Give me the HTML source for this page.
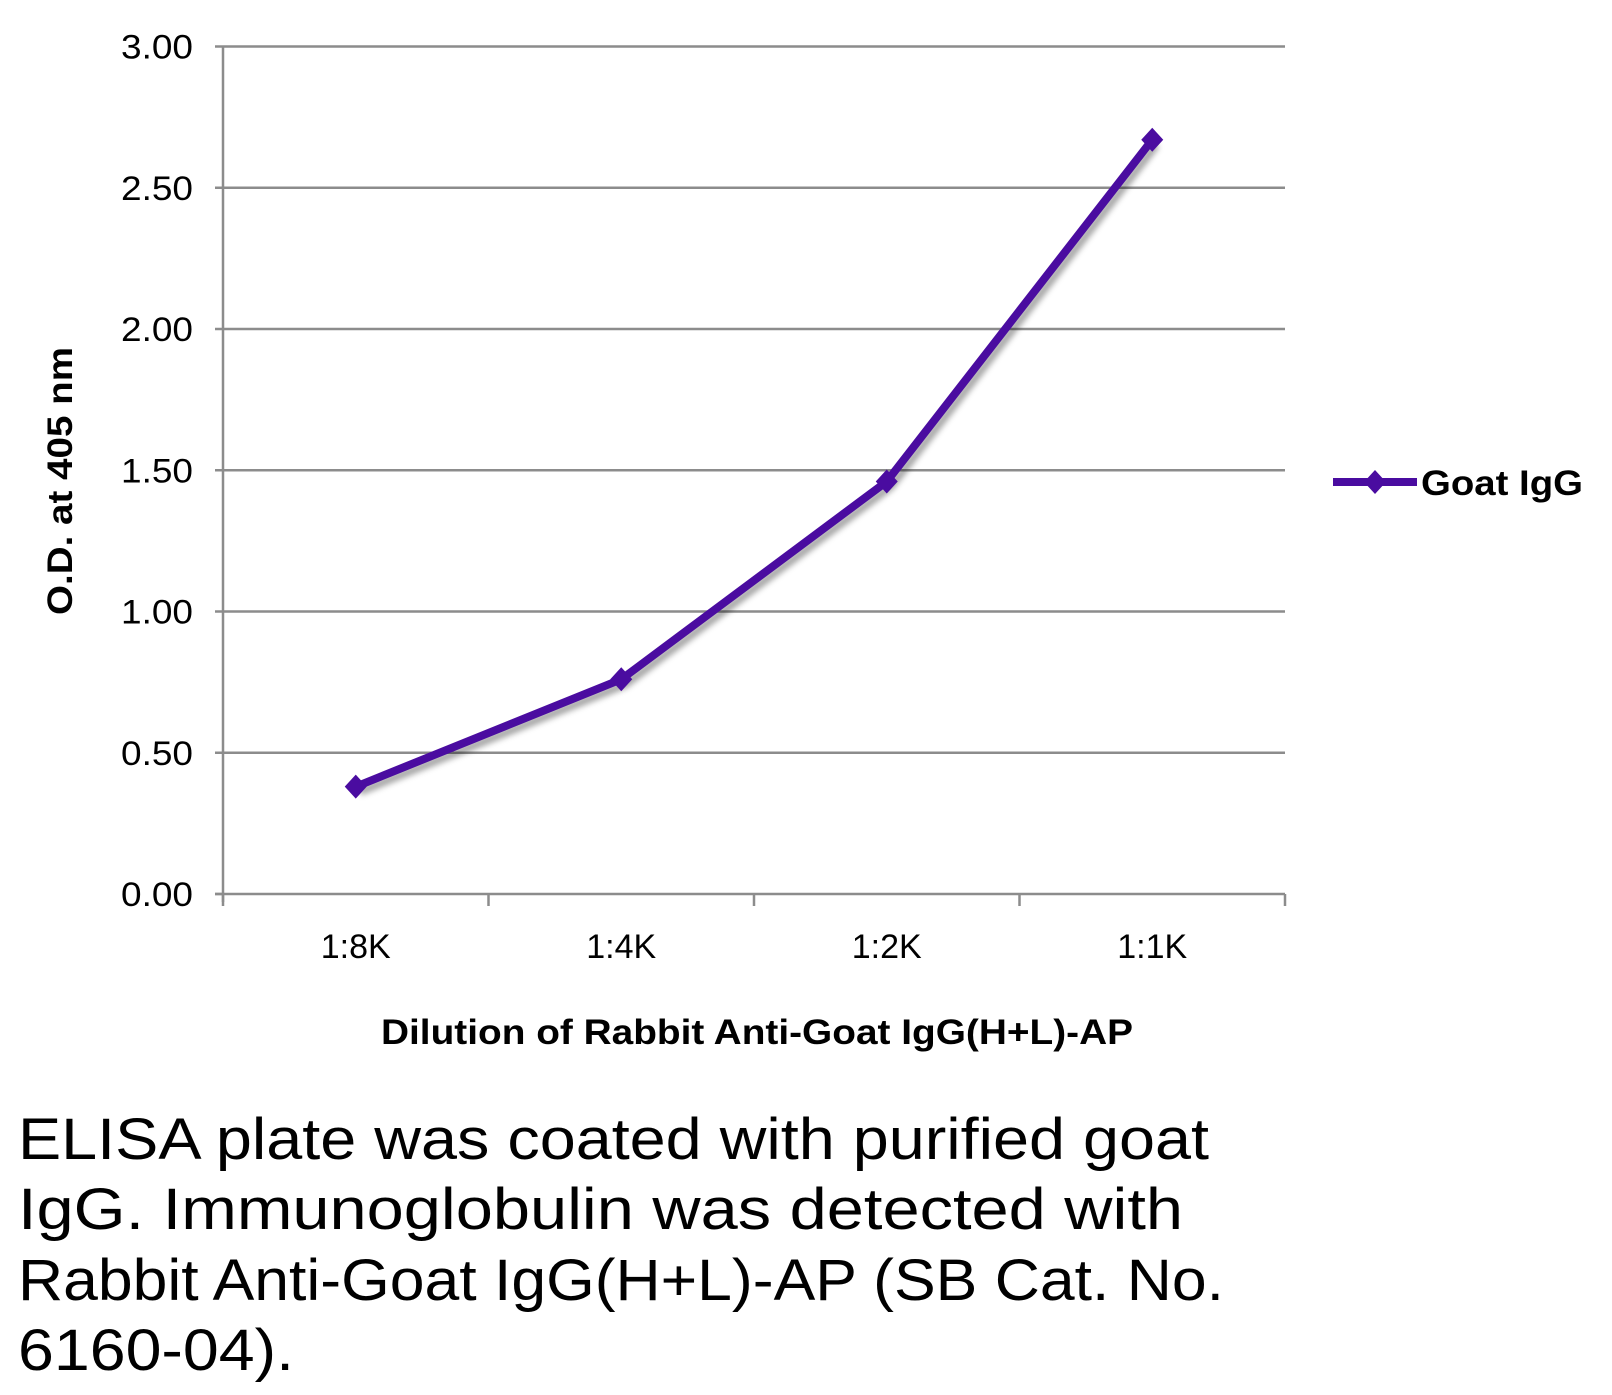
<!DOCTYPE html>
<html><head><meta charset="utf-8"><style>
html,body{margin:0;padding:0;background:#fff;}
svg{display:block;font-family:"Liberation Sans",sans-serif;}
</style></head><body>
<svg id="chart" width="1612" height="1395" viewBox="0 0 1612 1395" xmlns="http://www.w3.org/2000/svg">
<defs><filter id="sh" x="-10%" y="-10%" width="120%" height="120%"><feGaussianBlur stdDeviation="3"/></filter></defs>
<g id="grid"></g>
<g id="axes"></g>
<g id="series"></g>
<text transform="translate(72,481) rotate(-90)" text-anchor="middle" font-size="35" font-weight="bold" textLength="268" lengthAdjust="spacingAndGlyphs">O.D. at 405 nm</text>
<text x="757" y="1044" text-anchor="middle" font-size="35" font-weight="bold" textLength="752" lengthAdjust="spacingAndGlyphs">Dilution of Rabbit Anti-Goat IgG(H+L)-AP</text>
<g>
<line x1="1333" y1="482" x2="1417" y2="482" stroke="#4a0ca0" stroke-width="8"/>
<path d="M1375 470 L1386 482 L1375 494 L1364 482 Z" fill="#4a0ca0"/>
<text x="1421" y="495" font-size="35" font-weight="bold" textLength="162" lengthAdjust="spacingAndGlyphs">Goat IgG</text>
</g>
<g font-size="58" fill="#000">
<text x="18" y="1159" textLength="1191" lengthAdjust="spacingAndGlyphs">ELISA plate was coated with purified goat</text>
<text x="18" y="1229" textLength="1165" lengthAdjust="spacingAndGlyphs">IgG.  Immunoglobulin was detected with</text>
<text x="18" y="1300" textLength="1206" lengthAdjust="spacingAndGlyphs">Rabbit Anti-Goat IgG(H+L)-AP (SB Cat. No.</text>
<text x="18" y="1370" textLength="276" lengthAdjust="spacingAndGlyphs">6160-04).</text>
</g>
</svg>
<script>
const categories = ["1:8K","1:4K","1:2K","1:1K"];
const goatIgG = [0.38, 0.76, 1.46, 2.67];
const yTicks = [0, 0.5, 1.0, 1.5, 2.0, 2.5, 3.0];
const yTickLabels = ["0.00","0.50","1.00","1.50","2.00","2.50","3.00"];

const NS="http://www.w3.org/2000/svg";
const X0=223, X1=1285, Y0=894, Y1=46.5, YMAX=3;
const bw=(X1-X0)/categories.length;
function xPos(i){return X0+bw*(i+0.5);}
function yPos(v){return Y0-(v/YMAX)*(Y0-Y1);}
function mk(tag,attrs,parent){const e=document.createElementNS(NS,tag);for(const k in attrs)e.setAttribute(k,attrs[k]);parent.appendChild(e);return e;}
const grid=document.getElementById('grid'), axes=document.getElementById('axes'), ser=document.getElementById('series');
yTicks.forEach((t,i)=>{
  if(t>0){const l=mk('line',{x1:X0,x2:X1,y1:yPos(t),y2:yPos(t),stroke:'#8c8c8c','stroke-width':2.5},grid);
  
  }
  const tk=mk('line',{x1:X0-8,x2:X0,y1:yPos(t),y2:yPos(t),stroke:'#8c8c8c','stroke-width':2.5},axes);
  
  
  const tx=mk('text',{x:X0-30,y:yPos(t)+12,'text-anchor':'end','font-size':34,textLength:72,lengthAdjust:'spacingAndGlyphs'},axes);
  tx.textContent=yTickLabels[i];
  
  
});
const ya=mk('line',{x1:X0,x2:X0,y1:Y1,y2:Y0+8,stroke:'#8c8c8c','stroke-width':2.5},axes);


const xa=mk('line',{x1:X0-8,x2:X1,y1:Y0,y2:Y0,stroke:'#8c8c8c','stroke-width':2.5},axes);


for(let i=0;i<=categories.length;i++){
  const tk=mk('line',{x1:X0+bw*i,x2:X0+bw*i,y1:Y0,y2:Y0+12,stroke:'#8c8c8c','stroke-width':2.5},axes);
  
  
}
categories.forEach((c,i)=>{
  const tx=mk('text',{x:xPos(i),y:Y0+64,'text-anchor':'middle','font-size':34,textLength:70,lengthAdjust:'spacingAndGlyphs'},axes);
  tx.textContent=c;
  
  
});
const pts=goatIgG.map((v,i)=>xPos(i)+','+yPos(v)).join(' ');
const shadow=mk('polyline',{points:pts,fill:'none',stroke:'#000','stroke-opacity':0.35,'stroke-width':8,transform:'translate(4,5)',filter:'url(#sh)'},ser);


const line=mk('polyline',{points:pts,fill:'none',stroke:'#4a0ca0','stroke-width':8,'stroke-linejoin':'round'},ser);


goatIgG.forEach((v,i)=>{
  const x=xPos(i), y=yPos(v);
  const m=mk('path',{d:`M${x} ${y-12} L${x+11} ${y} L${x} ${y+12} L${x-11} ${y} Z`,fill:'#4a0ca0'},ser);
  
  
});
</script>
</body></html>
